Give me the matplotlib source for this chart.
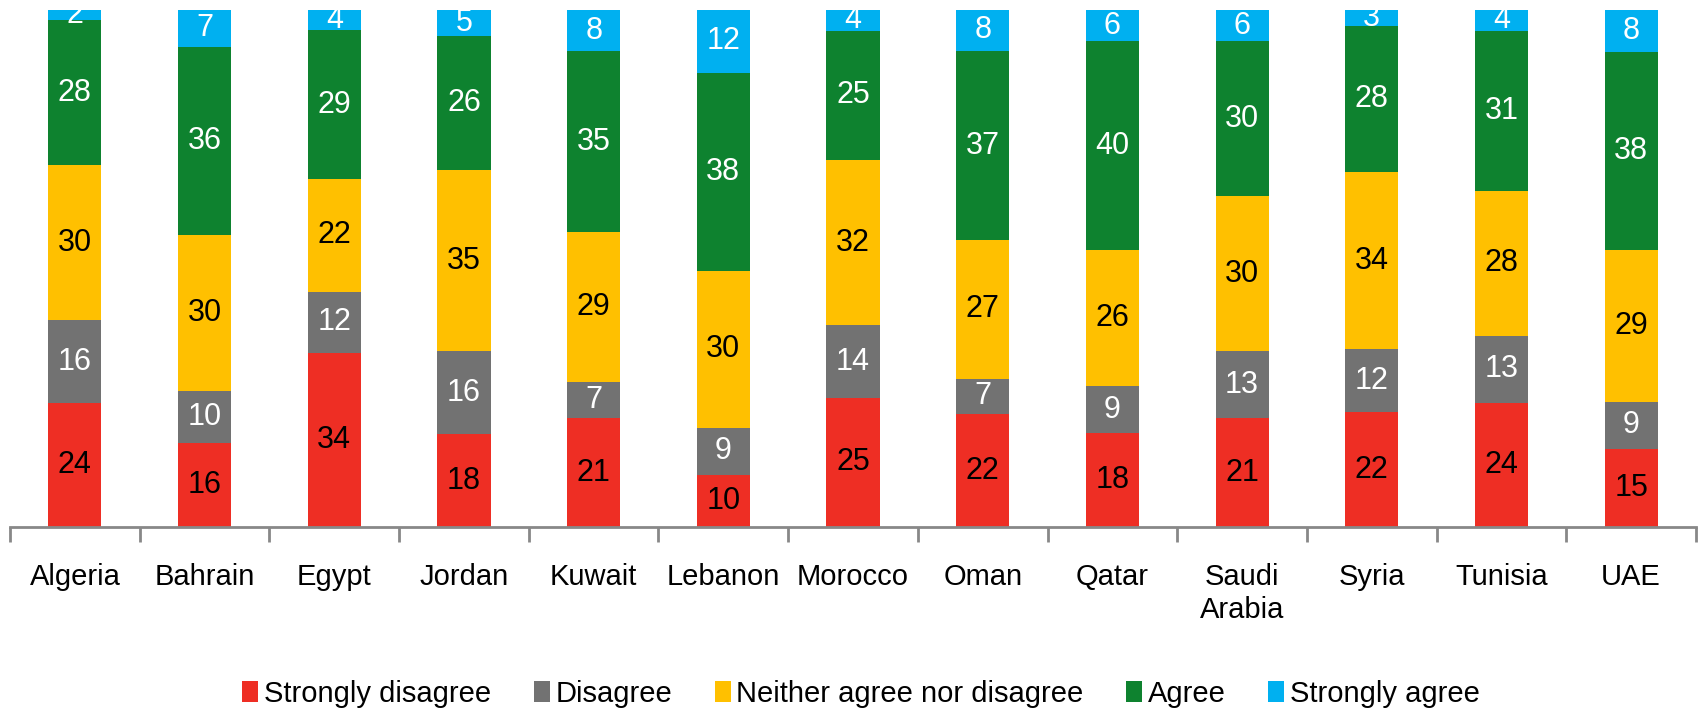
import numpy as np
import matplotlib
matplotlib.use('Agg')
import matplotlib.pyplot as plt
from matplotlib.patches import Patch

plt.rcParams['font.family'] = ['Liberation Sans', 'DejaVu Sans']

countries = ['Algeria', 'Bahrain', 'Egypt', 'Jordan', 'Kuwait', 'Lebanon', 'Morocco',
             'Oman', 'Qatar', 'Saudi\nArabia', 'Syria', 'Tunisia', 'UAE']
series = ['Strongly disagree', 'Disagree', 'Neither agree nor disagree', 'Agree', 'Strongly agree']

strongly_disagree = [24, 16, 34, 18, 21, 10, 25, 22, 18, 21, 22, 24, 15]
disagree = [16, 10, 12, 16, 7, 9, 14, 7, 9, 13, 12, 13, 9]
neither = [30, 30, 22, 35, 29, 30, 32, 27, 26, 30, 34, 28, 29]
agree = [28, 36, 29, 26, 35, 38, 25, 37, 40, 30, 28, 31, 38]
strongly_agree = [2, 7, 4, 5, 8, 12, 4, 8, 6, 6, 3, 4, 8]

colors = ['#EE2E24', '#727272', '#FFC000', '#0E822F', '#00B0F0']
label_colors = ['black', 'white', 'black', 'white', 'white']

data = np.array([strongly_disagree, disagree, neither, agree, strongly_agree], dtype=float)
# 100% stacked, like the original chart
pct = data / data.sum(axis=0) * 100

fig = plt.figure(figsize=(17.03, 7.10), dpi=100)
ax = fig.add_axes([0.0059, 0.2577, 0.99, 0.7282])

x = np.arange(len(countries))
bottom = np.zeros(len(countries))
for i, name in enumerate(series):
    ax.bar(x, pct[i], 0.41, bottom=bottom, color=colors[i], label=name)
    for j in range(len(countries)):
        ax.text(x[j], bottom[j] + pct[i][j] / 2, '%d' % data[i][j], ha='center', va='center',
                fontsize=22, color=label_colors[i])
    bottom += pct[i]

ax.set_xlim(-0.5, len(countries) - 0.5)
ax.set_ylim(0, 100)
ax.set_yticks([])
for s in ['top', 'right', 'left']:
    ax.spines[s].set_visible(False)
ax.spines['bottom'].set_color('#888888')
ax.spines['bottom'].set_linewidth(2)

ax.set_xticks(x)
ax.set_xticklabels(countries, fontsize=21, linespacing=1.2, va='top')
ax.tick_params(axis='x', which='major', length=0, pad=26)
ax.set_xticks(np.arange(-0.5, len(countries)), minor=True)
ax.tick_params(axis='x', which='minor', length=11, width=2, color='#888888')

handles = [Patch(facecolor=c, label=s) for c, s in zip(colors, series)]
fig.legend(handles=handles, loc='center', bbox_to_anchor=(0.5056, 0.023), ncol=5,
           frameon=False, fontsize=21, handlelength=0.55, handleheight=0.7,
           handletextpad=0.2, columnspacing=1.45)

fig.savefig('out.png', dpi=100)
